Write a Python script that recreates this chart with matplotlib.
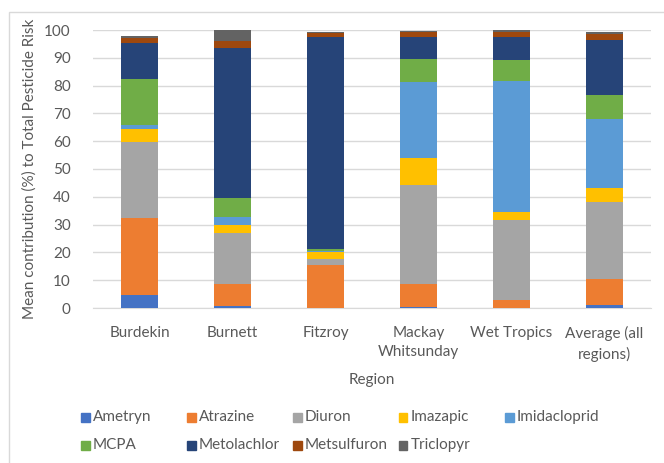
import matplotlib.pyplot as plt
import matplotlib.patches as mpatches
import numpy as np

plt.rcParams['font.family'] = ['Lato', 'DejaVu Sans']

regions = ['Burdekin', 'Burnett', 'Fitzroy', 'Mackay\nWhitsunday', 'Wet Tropics', 'Average (all\nregions)']

# 각 농약별 기여도 (%)
ametryn      = [4.8, 0.8, 0.1, 0.2, 0.1, 1.0]
atrazine     = [27.4, 8.0, 15.5, 8.6, 2.9, 9.4]
diuron       = [27.6, 18.0, 2.2, 35.6, 28.5, 27.7]
imazapic     = [4.5, 3.1, 2.5, 9.4, 3.1, 5.1]
imidacloprid = [1.6, 2.9, 0.3, 27.4, 47.2, 24.9]
mcpa         = [16.6, 6.6, 0.6, 8.2, 7.4, 8.5]
metolachlor  = [12.9, 54.0, 76.3, 8.1, 8.3, 19.8]
metsulfuron  = [1.8, 2.6, 1.5, 1.8, 1.8, 2.0]
triclopyr    = [0.5, 3.9, 0.2, 0.2, 0.7, 1.0]

names = ['Ametryn', 'Atrazine', 'Diuron', 'Imazapic', 'Imidacloprid',
         'MCPA', 'Metolachlor', 'Metsulfuron', 'Triclopyr']
series = [ametryn, atrazine, diuron, imazapic, imidacloprid,
          mcpa, metolachlor, metsulfuron, triclopyr]
colors = ['#4472C4', '#ED7D31', '#A5A5A5', '#FFC000', '#5B9BD5',
          '#70AD47', '#264478', '#9E480E', '#636363']

W, H = 664, 463
fig = plt.figure(figsize=(W/100, H/100), dpi=100)
ax = fig.add_axes([93/W, 1-308/H, (651-93)/W, (308-30)/H])

x = np.arange(len(regions))
bottom = np.zeros(len(regions))
for n, s, c in zip(names, series, colors):
    ax.bar(x, s, 0.4, bottom=bottom, color=c, label=n, zorder=3)
    bottom += np.array(s)

ax.set_xlim(-0.5, len(regions) - 0.5)
ax.set_ylim(0, 100)
ax.set_yticks(range(0, 101, 10))
ax.yaxis.grid(True, color='#D9D9D9', linewidth=1, zorder=0)
for sp in ['top', 'right', 'left']:
    ax.spines[sp].set_visible(False)
ax.spines['bottom'].set_color('#D9D9D9')
ax.tick_params(length=0, colors='#595959', labelsize=11)
ax.tick_params(axis='y', pad=16)
ax.tick_params(axis='x', pad=13)
ax.set_xticks(x)
ax.set_xticklabels(regions, linespacing=1.45)
ax.set_xlabel('Region', fontsize=11, color='#595959', labelpad=8)
ax.set_ylabel('Mean contribution (%) to Total Pesticide Risk', fontsize=11, color='#595959')
ax.yaxis.set_label_coords((37 - 93) / 558, 0.5)

# 범례: 엑셀처럼 같은 간격으로 배치
for i, (n, c) in enumerate(zip(names, colors)):
    px = 85 + (i % 5) * 106
    py = 417 + (i // 5) * 28
    fig.patches.append(mpatches.Rectangle(((px-4.5)/W, 1-(py+4.5)/H), 9/W, 9/H,
                                          transform=fig.transFigure, color=c))
    fig.text((px+8)/W, 1-py/H, n, fontsize=11, color='#595959', va='center', ha='left')

# 차트 테두리
fig.patches.append(mpatches.Rectangle((9/W, -0.1), 2, 1.1 - 12/H, transform=fig.transFigure,
                                      fill=False, edgecolor='#D9D9D9', linewidth=1))

fig.savefig('out.png', dpi=100)
